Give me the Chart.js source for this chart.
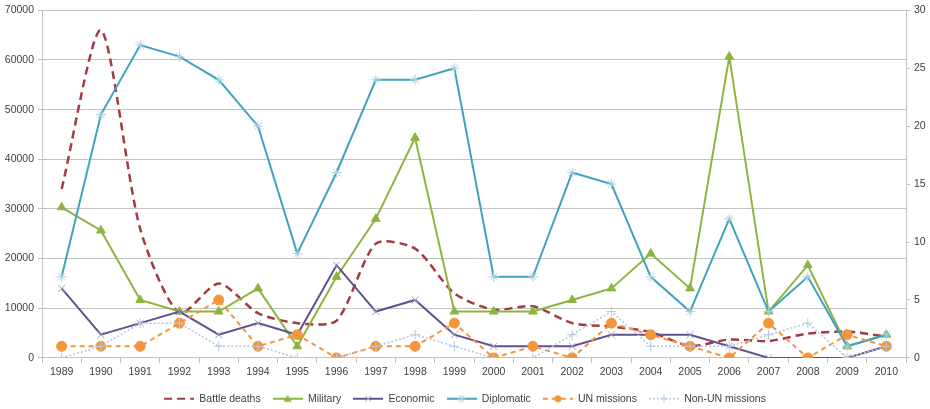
<!DOCTYPE html>
<html>
<head>
<meta charset="utf-8">
<script src="https://cdn.jsdelivr.net/npm/chart.js@4.4.1/dist/chart.umd.min.js"></script>
<style>
  html, body { margin: 0; padding: 0; background: #ffffff; }
  #wrap { width: 930px; height: 409px; position: relative; }
</style>
</head>
<body>
<div id="wrap"><canvas id="c"></canvas></div>
<script>
// Conflict years
const years = ['1989','1990','1991','1992','1993','1994','1995','1996','1997','1998','1999',
               '2000','2001','2002','2003','2004','2005','2006','2007','2008','2009','2010'];

// Battle deaths (left axis)
const battleDeaths = [34000, 66000, 26000, 9000, 15000, 9000, 7000, 7500, 23000, 22000, 13000,
                      9700, 10400, 7000, 6300, 5200, 2400, 3700, 3400, 4900, 5300, 4300];

// Intervention counts (right axis)
const military      = [13, 11, 5, 4, 4, 6, 1, 7, 12, 19, 4, 4, 4, 5, 6, 9, 6, 26, 4, 8, 1, 2];
const economic      = [6, 2, 3, 4, 2, 3, 2, 8, 4, 5, 2, 1, 1, 1, 2, 2, 2, 1, 0, 0, 0, 1];
const diplomatic    = [7, 21, 27, 26, 24, 20, 9, 16, 24, 24, 25, 7, 7, 16, 15, 7, 4, 12, 4, 7, 1, 2];
const unMissions    = [1, 1, 1, 3, 5, 1, 2, 0, 1, 1, 3, 0, 1, 0, 3, 2, 1, 0, 3, 0, 2, 1];
const nonUnMissions = [0, 1, 3, 3, 1, 1, 0, 0, 1, 2, 1, 0, 0, 2, 4, 1, 1, 1, 2, 3, 0, 1];

// Axis tick settings
const leftMax = 70000, leftStep = 10000;
const rightMax = 30, rightStep = 5;

const FONT = "'Liberation Sans', Arial, sans-serif";
const TEXT = '#404040';
const GRID = '#C3C3C3';

const series = [
  { label: 'Battle deaths', data: battleDeaths, axis: 'y',  color: '#A23B42', width: 2.5, dash: [8, 5],
    point: false, pointColor: '#A23B42', tension: 0.25 },
  { label: 'Military',      data: military,     axis: 'y1', color: '#8DB43E', width: 2,   dash: [],
    point: 'triangle', radius: 5, pointColor: '#8DB43E', fill: true },
  { label: 'Economic',      data: economic,     axis: 'y1', color: '#62508F', width: 2,   dash: [],
    point: 'crossRot', radius: 5, pointColor: '#A99DC4' },
  { label: 'Diplomatic',    data: diplomatic,   axis: 'y1', color: '#3FA3BE', width: 2,   dash: [],
    point: 'star', radius: 5, pointColor: '#A9D2E0' },
  { label: 'UN missions',   data: unMissions,   axis: 'y1', color: '#F2953C', width: 2,   dash: [5, 4],
    point: 'circle', radius: 5, pointColor: '#F2953C', fill: true },
  { label: 'Non-UN missions', data: nonUnMissions, axis: 'y1', color: '#AFC5DF', width: 1.5, dash: [2, 2],
    point: 'cross', radius: 5, pointColor: '#B5C9E0' }
];

// Small legend swatch: line segment with the series marker in the middle
function swatch(s) {
  const w = 30, h = 12, cx = w / 2, cy = h / 2;
  const cv = document.createElement('canvas');
  cv.width = w; cv.height = h;
  const g = cv.getContext('2d');
  g.strokeStyle = s.color;
  g.lineWidth = Math.min(s.width, 2);
  g.setLineDash(s.dash);
  g.beginPath(); g.moveTo(0, cy); g.lineTo(w, cy); g.stroke();
  g.setLineDash([]);
  if (s.point) {
    g.fillStyle = s.pointColor;
    g.strokeStyle = s.pointColor;
    g.lineWidth = 1;
    g.beginPath();
    if (s.point === 'triangle') {
      g.moveTo(cx, cy - 4); g.lineTo(cx + 4, cy + 3); g.lineTo(cx - 4, cy + 3); g.closePath(); g.fill();
    } else if (s.point === 'circle') {
      g.arc(cx, cy, 3.5, 0, Math.PI * 2); g.fill();
    } else if (s.point === 'crossRot') {
      g.moveTo(cx - 3, cy - 3); g.lineTo(cx + 3, cy + 3); g.moveTo(cx + 3, cy - 3); g.lineTo(cx - 3, cy + 3); g.stroke();
    } else if (s.point === 'cross') {
      g.moveTo(cx - 4, cy); g.lineTo(cx + 4, cy); g.moveTo(cx, cy - 4); g.lineTo(cx, cy + 4); g.stroke();
    } else if (s.point === 'star') {
      g.moveTo(cx - 4, cy); g.lineTo(cx + 4, cy); g.moveTo(cx, cy - 4); g.lineTo(cx, cy + 4);
      g.moveTo(cx - 3, cy - 3); g.lineTo(cx + 3, cy + 3); g.moveTo(cx + 3, cy - 3); g.lineTo(cx - 3, cy + 3); g.stroke();
    }
  }
  return cv;
}

const datasets = series.map((s, i) => ({
  label: s.label,
  data: s.data,
  yAxisID: s.axis,
  borderColor: s.color,
  borderWidth: s.width,
  borderDash: s.dash,
  tension: s.tension || 0,
  fill: false,
  pointStyle: s.point || 'circle',
  pointRadius: s.point ? s.radius : 0,
  pointBorderColor: s.pointColor,
  pointBackgroundColor: s.fill ? s.pointColor : 'rgba(0,0,0,0)',
  pointBorderWidth: 1,
  order: series.length - i
}));

new Chart(document.getElementById('c'), {
  type: 'line',
  data: { labels: years, datasets },
  options: {
    responsive: true,
    maintainAspectRatio: false,
    animation: false,
    layout: { padding: { top: 10, left: 0, right: 0, bottom: -5 } },
    plugins: {
      tooltip: { enabled: false },
      legend: {
        position: 'bottom',
        labels: {
          usePointStyle: true,
          pointStyleWidth: 30,
          boxHeight: 12,
          padding: 12,
          color: TEXT,
          font: { family: FONT, size: 10.5 },
          generateLabels: () => series.map((s, i) => ({
            text: s.label,
            pointStyle: swatch(s),
            fillStyle: 'rgba(0,0,0,0)',
            strokeStyle: 'rgba(0,0,0,0)',
            lineWidth: 0,
            fontColor: TEXT,
            hidden: false,
            datasetIndex: i
          }))
        }
      }
    },
    scales: {
      x: {
        type: 'category',
        offset: true,
        grid: { offset: true, drawOnChartArea: false, drawTicks: true, tickLength: 5, color: GRID },
        border: { color: GRID },
        ticks: { color: TEXT, font: { family: FONT, size: 10.5 }, maxRotation: 0, autoSkip: false, padding: 3 }
      },
      y: {
        position: 'left',
        min: 0, max: leftMax,
        ticks: { stepSize: leftStep, color: TEXT, font: { family: FONT, size: 10.5 }, padding: 4,
                 callback: (v) => String(v) },
        grid: { color: GRID, tickLength: 4 },
        border: { color: GRID },
        afterFit: (s) => { s.width = 42; }
      },
      y1: {
        position: 'right',
        min: 0, max: rightMax,
        ticks: { stepSize: rightStep, color: TEXT, font: { family: FONT, size: 10.5 }, padding: 4,
                 callback: (v) => String(v) },
        grid: { drawOnChartArea: false, color: GRID, tickLength: 4 },
        border: { color: GRID },
        afterFit: (s) => { s.width = 24; }
      }
    }
  }
});
</script>
</body>
</html>
